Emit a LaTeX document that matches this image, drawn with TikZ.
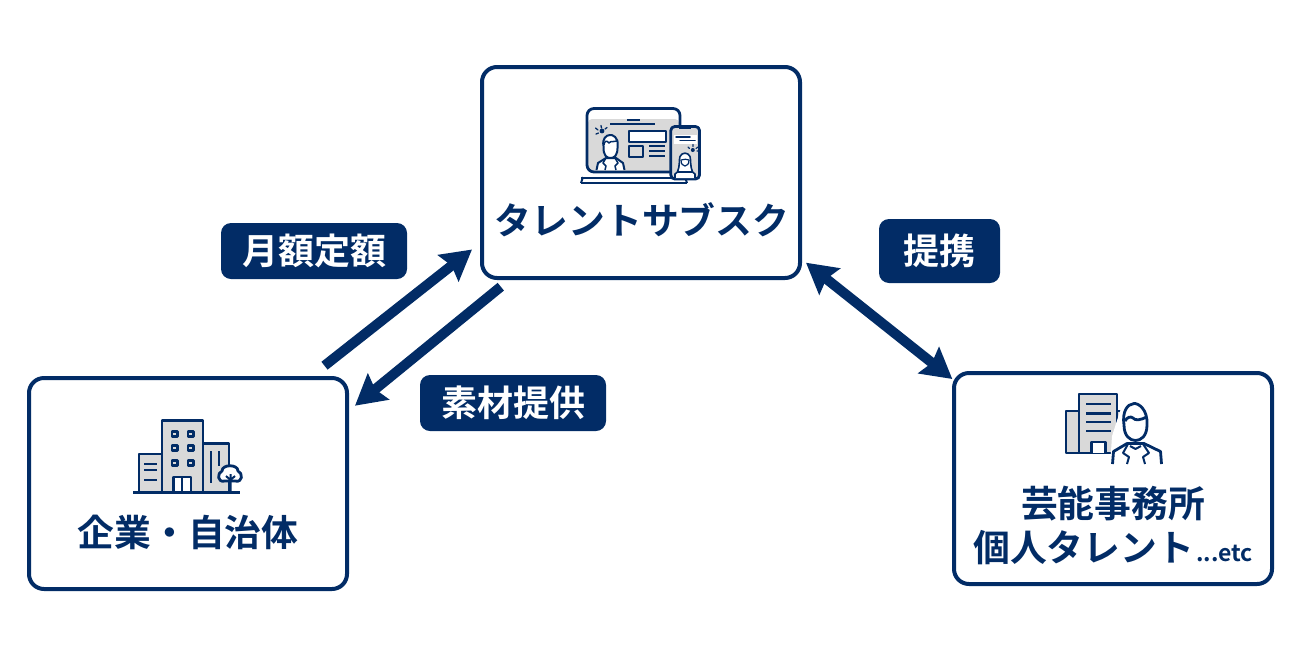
\documentclass[tikz,border=0pt]{standalone}
\usepackage{fontspec}
\setmainfont{Noto Sans CJK JP}[BoldFont={* Bold}]
\usetikzlibrary{arrows.meta}
\definecolor{navy}{HTML}{022C66}
\definecolor{icong}{HTML}{D9D9D9}
\tikzset{
  boxnode/.style={draw=navy,line width=4pt,fill=white,rounded corners=15pt,minimum width=318pt,minimum height=211pt,inner sep=0pt},
  tagnode/.style={fill=navy,text=white,rounded corners=10pt,inner sep=0pt,font=\fontsize{36}{36}\selectfont\bfseries},
  title/.style={text=navy,inner sep=0pt,align=center,font=\fontsize{36.8}{44}\selectfont\bfseries},
  link/.style={draw=navy,line width=10pt},
  ic/.style={draw=navy,line width=2.8pt,line join=round},
  ict/.style={draw=navy,line width=2pt,line join=round},
  thinl/.style={draw=navy,line width=1.3pt,line cap=round},
  tipa/.style={-{Stealth[length=30pt,width=33pt,inset=4pt,fill=navy]}},
  tipb/.style={{Stealth[length=30pt,width=33pt,inset=4pt,fill=navy]}-{Stealth[length=30pt,width=33pt,inset=4pt,fill=navy]}}
}
\begin{document}
\begin{tikzpicture}[x=1pt,y=-1pt]
\useasboundingbox (0,0) rectangle (1300,654);
% boxes
\node[boxnode] (svc) at (641,172.5) {};
\node[boxnode] (corp) at (188,483.5) {};
\node[boxnode] (agency) at (1113,478.5) {};
% titles
\node[title] (svct) at (642,220) {タレントサブスク};
\node[title] (corpt) at (188,532) {企業・自治体};
\node[title] (agt1) at (1113,503.5) {芸能事務所};
\node[title,anchor=west] (agt2) at (973,547.5) {個人タレント};
\node[title,anchor=west,font=\fontsize{23}{23}\selectfont\bfseries] (agt3) at (1196,553) {...etc};
% tags
\node[tagnode,minimum width=186pt,minimum height=56pt] (tag1) at (314,251) {月額定額};
\node[tagnode,minimum width=186pt,minimum height=56pt] (tag2) at (513,403) {素材提供};
\node[tagnode,minimum width=121pt,minimum height=64pt] (tag3) at (939.5,251) {提携};
% connectors
\coordinate (a1s) at (324.5,365.7); \coordinate (a1e) at (472,249.5);
\coordinate (a2s) at (500.8,286.7); \coordinate (a2e) at (355,405.7);
\coordinate (a3s) at (806,262.7); \coordinate (a3e) at (952.3,379);
\draw[link,tipa] (a1s) -- (a1e);
\draw[link,tipa] (a2s) -- (a2e);
\draw[link,tipb] (a3s) -- (a3e);
% icon: monitor + phone
\fill[icong,rounded corners=4pt] (588,119) -- (679,119) -- (679,171.5) -- (588,171.5) -- cycle;
\draw[ic,rounded corners=7pt] (587,172) -- (587,108.5) -- (680,108.5) -- (680,172) -- cycle;
\draw[ict] (610,123.5) -- (655,123.5);
\draw[ict] (627,119.5) -- (640,119.5);
\draw[ic,fill=white] (629,131) rectangle (666,142);
\draw[ic,fill=icong] (629,146) rectangle (643,157);
\draw[ict] (649,146) -- (665,146) (649,151) -- (665,151) (649,155.5) -- (665,155.5);
% man
\draw[ict,fill=white] (596.5,170) -- (598,163) -- (606,158) -- (616,158) -- (623,163) -- (624.5,170);
\draw[ict,fill=white] (603.5,146) .. controls (603,156) and (607,158) .. (610.5,158) .. controls (614,158) and (618,156) .. (617.5,146) .. controls (619,137) and (612,134.5) .. (610,135) .. controls (606,135) and (602,139) .. (603.5,146) -- cycle;
\draw[ict,line width=1.5pt] (604,145) .. controls (604,141) and (607,140) .. (609,143) .. controls (611,140) and (614,143) .. (617,141);
\draw[ict,line width=1.5pt] (606,158) -- (603,163) -- (606,166) -- (605,170) (615,158) -- (618,163) -- (615,166) -- (616,170);
\draw[thinl] (595.5,128) -- (598,130) (601,125.5) -- (601.5,128) (607,127.5) -- (605,129) (596,134) -- (598.5,133);
\fill[navy] (602,131) circle (2.4pt);
% stand
\draw[ict] (581,177.5) -- (686,177.5);
\draw[ic] (581,183) -- (687,183);
\draw[ict] (583,177) -- (581,183) (685,177) -- (687,183);
% phone
\draw[ic,fill=icong,rounded corners=4pt] (670.8,126.5) rectangle (699.5,179);
\fill[white] (673.5,134.5) rectangle (697,144);
\draw[ict] (679,127.5) -- (691,127.5);
\draw[thinl,line width=1.5pt] (676,137) -- (690,137) (680,140.5) -- (695,140.5);
\draw[ict,line width=1.6pt,fill=white] (675,178) -- (675,174) -- (680,170) -- (690,170) -- (695,174) -- (695,178);
\draw[ict,line width=1.6pt,fill=white] (677.5,172) .. controls (680,166) and (679,159) .. (680,156.5) .. controls (682,152) and (688,152) .. (690,156.5) .. controls (691,160) and (690,166) .. (692.5,172) -- cycle;
\draw[ict,line width=1.2pt] (681,160) .. controls (681,168) and (689,168) .. (689,160) .. controls (687,159) and (684,159) .. (681,160) -- cycle;
\draw[thinl,line width=1.1pt] (688,147) -- (689.5,148.5) (693,144.5) -- (693,146.5) (698,147) -- (696,148.5) (699,151) -- (697,151);
\fill[navy] (692.8,150) circle (2pt);
% icon: buildings
\draw[ic,fill=icong] (139,454) rectangle (162,492);
\draw[ic,fill=icong] (203,443.5) rectangle (229,492);
\draw[ic,fill=icong] (162,420.5) rectangle (203,492);
\foreach \yy in {464,470,480}{\draw[ict] (144,\yy) -- (157,\yy);}
\foreach \xx in {174.5,190.5}{\foreach \yy in {434,448,463}{\draw[ict,line width=2.6pt,fill=icong] (\xx-2.7,\yy-2.7) rectangle (\xx+2.7,\yy+2.7);}}
\draw[ic,fill=white] (173.5,492) -- (173.5,477) -- (191,477) -- (191,492);
\draw[ict] (182,477) -- (182,492);
\draw[ict] (211,451) -- (211,483) (219,451) -- (219,466);
\draw[ic] (133,492.5) -- (240,492.5);
\draw[ic,fill=white] (225,481) .. controls (217,483) and (217,473) .. (222,471) .. controls (222,464) and (238,464) .. (238,471) .. controls (243,473) and (243,483) .. (235,481) -- cycle;
\draw[ict] (230.5,474) -- (230.5,492) (226,476) -- (230.5,480) -- (235,476);
% icon: office + person
\draw[ic,fill=icong] (1066,411) rectangle (1082,453);
\draw[ic,fill=icong] (1117,411) -- (1126,411) -- (1126,453) -- (1117,453);
\draw[ic,fill=icong] (1079,394) rectangle (1117,453);
\foreach \yy in {404,413.5,422,431}{\draw[ic] (1086,\yy) -- (1111,\yy);}
\draw[ic,fill=white] (1091.5,453) -- (1091.5,442) -- (1105.5,442) -- (1105.5,453);
\fill[white] (1112,436) -- (1123,402) -- (1150,402) -- (1165,466) -- (1110,466) -- cycle;
\draw[ic,fill=white] (1112.5,464) -- (1113.5,451.5) -- (1127,443.5) -- (1144,443.5) -- (1160.5,451.5) -- (1161.5,464);
\draw[ic,fill=white] (1124,425) .. controls (1124,436) and (1130,440.5) .. (1135.5,440.5) .. controls (1141,440.5) and (1147,436) .. (1147,425) .. controls (1148,409) and (1138,403) .. (1134,403.5) .. controls (1127,404) and (1122,412) .. (1124,425) -- cycle;
\draw[ic] (1125,421) .. controls (1127,417) and (1131,416) .. (1133,418) .. controls (1135,421) and (1141,420) .. (1146.5,417);
\draw[ict] (1128,444) -- (1123,453) -- (1129,457) -- (1127,464) (1143,444) -- (1149,453) -- (1143,457) -- (1145,464);
\draw[ict] (1130,446) -- (1135.5,449) -- (1141,446);
\end{tikzpicture}
\end{document}
